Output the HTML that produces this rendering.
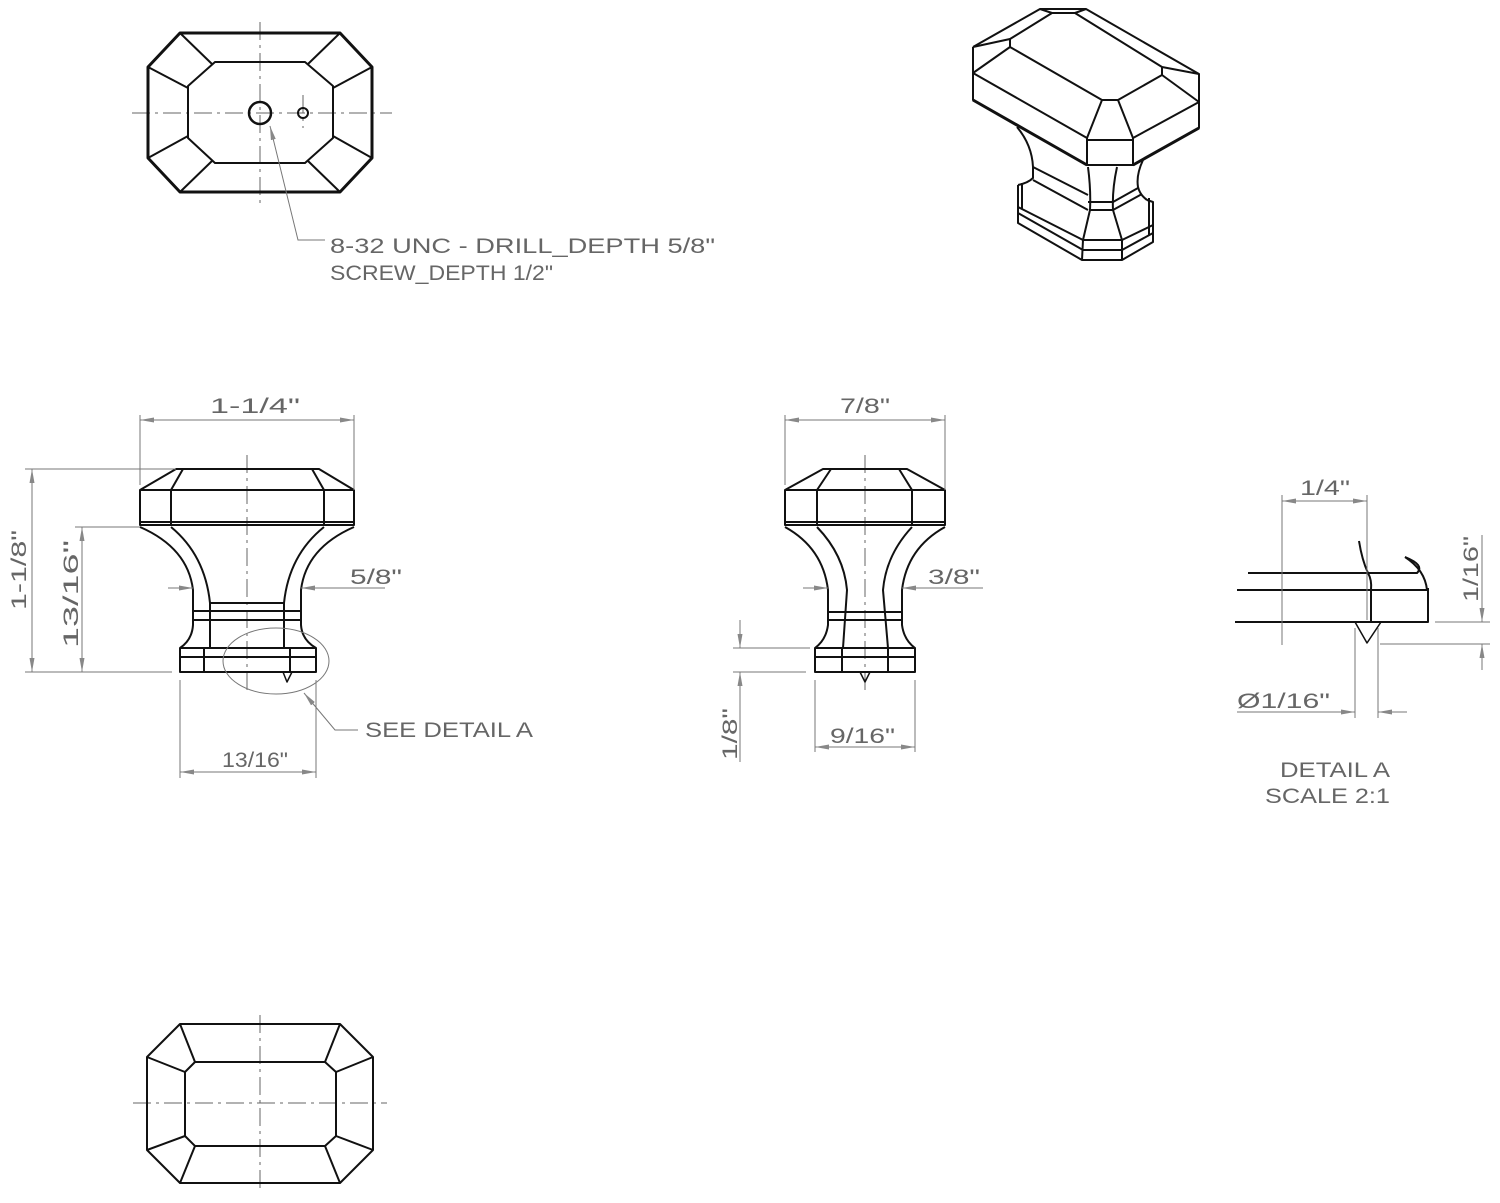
<!DOCTYPE html>
<html><head><meta charset="utf-8"><style>
html,body{margin:0;padding:0;background:#fff}
svg{display:block}
text{font-family:"Liberation Sans",sans-serif;fill:#666;font-size:21px}
.o{stroke:#111;stroke-width:2;fill:none;stroke-linejoin:round}
.d{stroke:#777;stroke-width:1;fill:none}
.c{stroke:#666;stroke-width:1;fill:none;stroke-dasharray:18 5 3 5}
</style></head><body>
<svg width="1500" height="1203" viewBox="0 0 1500 1203" xmlns="http://www.w3.org/2000/svg">
<defs>
<marker id="a" viewBox="0 0 14 6" refX="14" refY="3" markerWidth="14" markerHeight="6" markerUnits="userSpaceOnUse" orient="auto-start-reverse">
<path d="M14,3 L0,0.5 L0,5.5 Z" fill="#888"/>
</marker>
</defs>

<!-- TOP VIEW -->
<line class="c" x1="132" y1="113" x2="392" y2="113"/>
<line class="c" x1="260" y1="22" x2="260" y2="205"/>
<line class="c" x1="303" y1="95" x2="303" y2="128"/>
<polygon class="o" points="180,33 340,33 372,67 372,158 340,192 180,192 148,158 148,67" style="stroke-width:3"/>
<polygon class="o" points="215,62 305,62 333,86 333,138 305,163 215,163 188,138 188,86"/>
<line class="o" x1="180" y1="33" x2="212" y2="64"/><line class="o" x1="148" y1="67" x2="188" y2="88"/>
<line class="o" x1="340" y1="33" x2="308" y2="64"/><line class="o" x1="372" y1="67" x2="333" y2="88"/>
<line class="o" x1="180" y1="192" x2="212" y2="161"/><line class="o" x1="148" y1="158" x2="188" y2="136"/>
<line class="o" x1="340" y1="192" x2="308" y2="161"/><line class="o" x1="372" y1="158" x2="333" y2="136"/>
<circle class="o" cx="260" cy="113" r="11" style="stroke-width:2.5"/>
<circle class="o" cx="303" cy="113" r="5"/>
<polyline class="d" points="270,126 298,240 325,240" marker-start="url(#a)"/>
<text x="330" y="253" textLength="385" lengthAdjust="spacingAndGlyphs">8-32 UNC - DRILL_DEPTH 5/8"</text>
<text x="330" y="280" textLength="223" lengthAdjust="spacingAndGlyphs">SCREW_DEPTH 1/2"</text>

<!-- ISO VIEW -->
<g class="o">
<polyline points="973,47 1040,9 1086,9 1199,74 1199,128 1133,165 1087,165 973,100 973,47"/>
<polyline points="973,73 1010,47 1010,39 973,47"/>
<polyline points="1010,39 1052,13 1075,13 1162,67 1199,74"/>
<line x1="1052" y1="13" x2="1040" y2="9"/><line x1="1075" y1="13" x2="1086" y2="9"/>
<polyline points="1010,47 1102,100 1118,100 1162,75 1162,67"/>
<line x1="1162" y1="75" x2="1199" y2="102"/>
<line x1="973" y1="73" x2="1087" y2="138"/>
<polyline points="1087,165 1087,138 1102,100"/>
<polyline points="1118,100 1133,138 1133,165"/>
<line x1="1087" y1="140" x2="1133" y2="140"/>
<line x1="1133" y1="138" x2="1199" y2="102"/>
<line x1="973" y1="100" x2="1087" y2="165" style="stroke-width:3"/>
<line x1="1133" y1="165" x2="1199" y2="128" style="stroke-width:3"/>
<path d="M1017,127 Q1032,145 1033,167 L1033,178 Q1028,183 1018,185"/>
<path d="M1143,160 Q1136,175 1138,187 Q1140,195 1147,200"/>
<line x1="1033" y1="167" x2="1088" y2="195"/>
<line x1="1033" y1="180" x2="1088" y2="210"/>
<polyline points="1018,185 1018,223 1082,260 1122,260 1153,242 1153,202 1147,200"/>
<line x1="1022" y1="183" x2="1022" y2="209"/>
<line x1="1018" y1="207" x2="1083" y2="240"/>
<line x1="1018" y1="213" x2="1083" y2="250"/>
<path d="M1088,167 Q1091,190 1090,210 L1083,240 L1082,260"/>
<path d="M1117,167 Q1112,190 1113,210 L1122,240 L1122,260"/>
<line x1="1088" y1="202" x2="1113" y2="202"/>
<line x1="1090" y1="210" x2="1113" y2="210"/>
<line x1="1083" y1="240" x2="1122" y2="240"/>
<line x1="1083" y1="250" x2="1122" y2="250"/>
<line x1="1122" y1="240" x2="1153" y2="225"/>
<line x1="1122" y1="250" x2="1153" y2="233"/>
<line x1="1113" y1="202" x2="1138" y2="188"/>
<line x1="1113" y1="210" x2="1142" y2="194"/>
<line x1="1149" y1="198" x2="1149" y2="235"/>
</g>

<!-- FRONT VIEW -->
<line class="c" x1="247" y1="455" x2="247" y2="692"/>
<g class="o">
<polygon points="176,469 319,469 354,490 354,525 140,525 140,490"/>
<line x1="140" y1="490" x2="354" y2="490"/>
<line x1="140" y1="522" x2="354" y2="522"/>
<polyline points="183,469 171,490 171,525"/><polyline points="312,469 324,490 324,525"/>
<path d="M140,527 Q188,548 193,590 L193,625 Q192,640 180,648"/>
<path d="M171,527 Q205,555 210,603 L210,648 L204,648"/>
<path d="M354,527 Q306,548 301,590 L301,625 Q302,640 316,648"/>
<path d="M324,527 Q289,555 284,603 L284,648 L290,648"/>
<line x1="210" y1="603" x2="284" y2="603"/>
<line x1="193" y1="611" x2="301" y2="611"/>
<line x1="193" y1="620" x2="301" y2="620"/>
<rect x="180" y="648" width="136" height="24"/>
<line x1="180" y1="657" x2="316" y2="657"/>
<line x1="204" y1="648" x2="204" y2="672"/><line x1="290" y1="648" x2="290" y2="672"/>
<polygon points="283,672 292,672 287,682" style="stroke-width:1.5"/>
</g>
<line class="d" x1="140" y1="415" x2="140" y2="485"/><line class="d" x1="354" y1="415" x2="354" y2="490"/>
<line class="d" x1="140" y1="420" x2="354" y2="420" marker-start="url(#a)" marker-end="url(#a)"/>
<text x="210" y="413" textLength="90" lengthAdjust="spacingAndGlyphs">1-1/4"</text>
<line class="d" x1="25" y1="469" x2="176" y2="469"/><line class="d" x1="25" y1="672" x2="172" y2="672"/>
<line class="d" x1="32" y1="469" x2="32" y2="672" marker-start="url(#a)" marker-end="url(#a)"/>
<text transform="translate(26,610) rotate(-90)" textLength="80" lengthAdjust="spacingAndGlyphs">1-1/8"</text>
<line class="d" x1="75" y1="527" x2="140" y2="527"/>
<line class="d" x1="82" y1="527" x2="82" y2="672" marker-start="url(#a)" marker-end="url(#a)"/>
<text transform="translate(78,648) rotate(-90)" textLength="108" lengthAdjust="spacingAndGlyphs">13/16"</text>
<line class="d" x1="168" y1="588" x2="193" y2="588" marker-end="url(#a)"/>
<line class="d" x1="301" y1="588" x2="385" y2="588" marker-start="url(#a)"/>
<text x="350" y="584" textLength="52" lengthAdjust="spacingAndGlyphs">5/8"</text>
<line class="d" x1="180" y1="680" x2="180" y2="778"/><line class="d" x1="316" y1="680" x2="316" y2="778"/>
<line class="d" x1="180" y1="772" x2="316" y2="772" marker-start="url(#a)" marker-end="url(#a)"/>
<text x="222" y="767" textLength="66" lengthAdjust="spacingAndGlyphs">13/16"</text>
<ellipse cx="276" cy="661" rx="53" ry="33" class="d"/>
<polyline class="d" points="304,693 335,730 358,730" marker-start="url(#a)"/>
<text x="365" y="737" textLength="168" lengthAdjust="spacingAndGlyphs">SEE DETAIL A</text>

<!-- SIDE VIEW -->
<line class="c" x1="865" y1="455" x2="865" y2="690"/>
<g class="o">
<polygon points="823,469 907,469 945,490 945,525 785,525 785,490"/>
<line x1="785" y1="490" x2="945" y2="490"/>
<line x1="785" y1="522" x2="945" y2="522"/>
<polyline points="831,469 817,490 817,525"/><polyline points="899,469 912,490 912,525"/>
<path d="M785,527 Q823,548 828,590 L828,625 Q826,640 815,648"/>
<path d="M817,527 Q844,555 847,590 L843,648"/>
<path d="M945,527 Q907,548 902,590 L902,625 Q904,640 915,648"/>
<path d="M912,527 Q886,555 883,590 L888,648"/>
<line x1="828" y1="612" x2="902" y2="612"/>
<line x1="828" y1="620" x2="902" y2="620"/>
<rect x="815" y="648" width="100" height="24"/>
<line x1="815" y1="657" x2="915" y2="657"/>
<line x1="842" y1="648" x2="842" y2="672"/><line x1="888" y1="648" x2="888" y2="672"/>
<polygon points="860,672 870,672 865,682" style="stroke-width:1.5"/>
</g>
<line class="d" x1="785" y1="415" x2="785" y2="485"/><line class="d" x1="945" y1="415" x2="945" y2="490"/>
<line class="d" x1="785" y1="420" x2="945" y2="420" marker-start="url(#a)" marker-end="url(#a)"/>
<text x="840" y="413" textLength="50" lengthAdjust="spacingAndGlyphs">7/8"</text>
<line class="d" x1="803" y1="588" x2="828" y2="588" marker-end="url(#a)"/>
<line class="d" x1="902" y1="588" x2="983" y2="588" marker-start="url(#a)"/>
<text x="928" y="584" textLength="52" lengthAdjust="spacingAndGlyphs">3/8"</text>
<line class="d" x1="733" y1="648" x2="810" y2="648"/><line class="d" x1="733" y1="672" x2="806" y2="672"/>
<line class="d" x1="740" y1="620" x2="740" y2="648" marker-end="url(#a)"/>
<line class="d" x1="740" y1="672" x2="740" y2="762" marker-start="url(#a)"/>
<text transform="translate(737,760) rotate(-90)" textLength="52" lengthAdjust="spacingAndGlyphs">1/8"</text>
<line class="d" x1="815" y1="680" x2="815" y2="752"/><line class="d" x1="915" y1="680" x2="915" y2="752"/>
<line class="d" x1="815" y1="747" x2="915" y2="747" marker-start="url(#a)" marker-end="url(#a)"/>
<text x="830" y="743" textLength="65" lengthAdjust="spacingAndGlyphs">9/16"</text>

<!-- DETAIL A -->
<g class="o">
<path d="M1248,573 L1417,573 Q1425,565 1405,557"/>
<path d="M1237,590 L1427,590 Q1425,570 1405,557"/>
<polyline points="1235,622 1428,622 1428,588"/>
<path d="M1359,541 Q1362,560 1368,573 Q1372,580 1371,590 L1371,622"/>
<polygon points="1355,622 1381,622 1367,643" style="stroke-width:1.5"/>
</g>
<line class="d" x1="1282" y1="495" x2="1282" y2="645"/>
<line class="d" x1="1367" y1="495" x2="1367" y2="620"/>
<line class="d" x1="1282" y1="501" x2="1367" y2="501" marker-start="url(#a)" marker-end="url(#a)"/>
<text x="1300" y="495" textLength="50" lengthAdjust="spacingAndGlyphs">1/4"</text>
<line class="d" x1="1435" y1="622" x2="1490" y2="622"/><line class="d" x1="1380" y1="644" x2="1490" y2="644"/>
<line class="d" x1="1482" y1="535" x2="1482" y2="622" marker-end="url(#a)"/>
<line class="d" x1="1482" y1="644" x2="1482" y2="670" marker-start="url(#a)"/>
<text transform="translate(1478,602) rotate(-90)" textLength="66" lengthAdjust="spacingAndGlyphs">1/16"</text>
<line class="d" x1="1355" y1="628" x2="1355" y2="718"/><line class="d" x1="1378" y1="628" x2="1378" y2="718"/>
<line class="d" x1="1237" y1="712" x2="1355" y2="712" marker-end="url(#a)"/>
<line class="d" x1="1378" y1="712" x2="1407" y2="712" marker-start="url(#a)"/>
<text x="1237" y="708" textLength="93" lengthAdjust="spacingAndGlyphs">Ø1/16"</text>
<text x="1280" y="777" textLength="110" lengthAdjust="spacingAndGlyphs">DETAIL A</text>
<text x="1265" y="803" textLength="125" lengthAdjust="spacingAndGlyphs">SCALE 2:1</text>

<!-- BOTTOM VIEW -->
<line class="c" x1="133" y1="1103" x2="387" y2="1103"/>
<line class="c" x1="260" y1="1015" x2="260" y2="1193"/>
<g class="o">
<polygon points="180,1024 340,1024 373,1057 373,1150 340,1183 180,1183 147,1150 147,1057"/>
<polygon points="195,1062 325,1062 336,1072 336,1136 325,1146 195,1146 185,1136 185,1072"/>
<line x1="180" y1="1024" x2="195" y2="1062"/><line x1="147" y1="1057" x2="185" y2="1072"/>
<line x1="340" y1="1024" x2="325" y2="1062"/><line x1="373" y1="1057" x2="336" y2="1072"/>
<line x1="180" y1="1183" x2="195" y2="1146"/><line x1="147" y1="1150" x2="185" y2="1136"/>
<line x1="340" y1="1183" x2="325" y2="1146"/><line x1="373" y1="1150" x2="336" y2="1136"/>
</g>
</svg>
</body></html>
